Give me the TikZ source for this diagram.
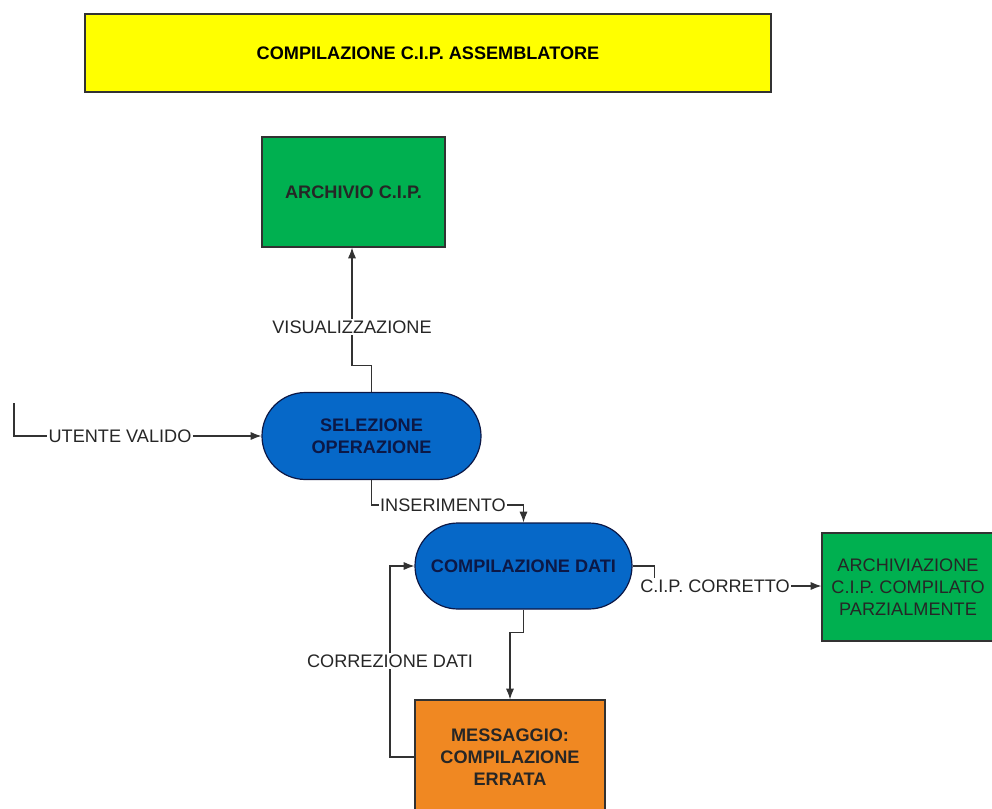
\documentclass[tikz,border=0pt]{standalone}
\usepackage{fontspec}
\setmainfont{Liberation Sans}
\usetikzlibrary{shapes.misc,calc,arrows.meta}
\definecolor{titlefill}{RGB}{255,255,0}
\definecolor{storefill}{RGB}{0,176,80}
\definecolor{procfill}{RGB}{6,104,200}
\definecolor{proctext}{RGB}{12,24,70}
\definecolor{msgfill}{RGB}{240,136,34}
\definecolor{edge}{RGB}{50,50,50}
\newcommand\lblsize{\fontsize{13.6}{16.5}\selectfont}
\def\pxl{0.75pt}
\begin{document}
\begin{tikzpicture}[x=0.75pt,y=-0.75pt,
  every node/.style={font=\lblsize},
  box/.style={draw=edge, line width=0.9pt, inner sep=0pt, align=center},
  title/.style={box, fill=titlefill, font=\lblsize\bfseries},
  store/.style={box, fill=storefill, text=black!85},
  proc/.style={rounded rectangle, draw=proctext, line width=0.9pt, fill=procfill,
    text=proctext, inner sep=0pt, align=center, font=\lblsize\bfseries},
  msg/.style={box, fill=msgfill, text=black!85, font=\lblsize\bfseries},
  lbl/.style={fill=white, inner sep=1pt, text=black!85},
  flow/.style={draw=edge, line width=0.8pt},
  arr/.style={flow, -{Latex[length=8pt,width=6pt]}}]
\useasboundingbox (0,0) rectangle (992,809);
\clip (0,0) rectangle (992,809);

% blocks
\node[title, minimum width=686*\pxl, minimum height=78*\pxl] (tit) at (428,53)
  {COMPILAZIONE C.I.P. ASSEMBLATORE};
\node[store, font=\lblsize\bfseries, minimum width=183*\pxl, minimum height=110*\pxl]
  (arch) at (353.5,192) {ARCHIVIO C.I.P.};
\node[proc, minimum width=219*\pxl, minimum height=87*\pxl] (sel) at (371.5,436)
  {SELEZIONE\\OPERAZIONE};
\node[proc, minimum width=217*\pxl, minimum height=86*\pxl] (cd) at (523.5,566)
  {COMPILAZIONE DATI};
\node[store, minimum width=172*\pxl, minimum height=108*\pxl] (parz) at (908,587)
  {ARCHIVIAZIONE\\C.I.P. COMPILATO\\PARZIALMENTE};
\node[msg, minimum width=190*\pxl, minimum height=114*\pxl] (err) at (510,757)
  {MESSAGGIO:\\COMPILAZIONE\\ERRATA};

% flow labels
\node[lbl] (uv) at (120,436) {UTENTE VALIDO};
\node[lbl] (vis) at (352,327) {VISUALIZZAZIONE};
\node[lbl] (ins) at (443,505) {INSERIMENTO};
\node[lbl] (ok) at (715,586) {C.I.P. CORRETTO};
\node[lbl] (corr) at (390,661) {CORREZIONE DATI};
\coordinate (src) at (14,403);

% connectors
\draw[flow] (src) |- (uv.west);
\draw[arr] (uv.east) -- (uv.east -| sel.west);
\draw[flow] (sel.north) -- ++(0,-26) -| (vis.south);
\draw[arr] (vis.north) -- (vis.north |- arch.south);
\draw[flow] (sel.south) |- (ins.west);
\draw[arr] (ins.east) -| (cd.north);
\draw[flow] (cd.east) -| ($(ok.north west)+(16,0)$);
\draw[arr] (ok.east) -- (ok.east -| parz.west);
\draw[arr] (cd.south) -- ++(0,23) -| (err.north);
\draw[flow] (err.west) -| (corr.south);
\draw[arr] (corr.north) |- (cd.west);
\end{tikzpicture}
\end{document}
